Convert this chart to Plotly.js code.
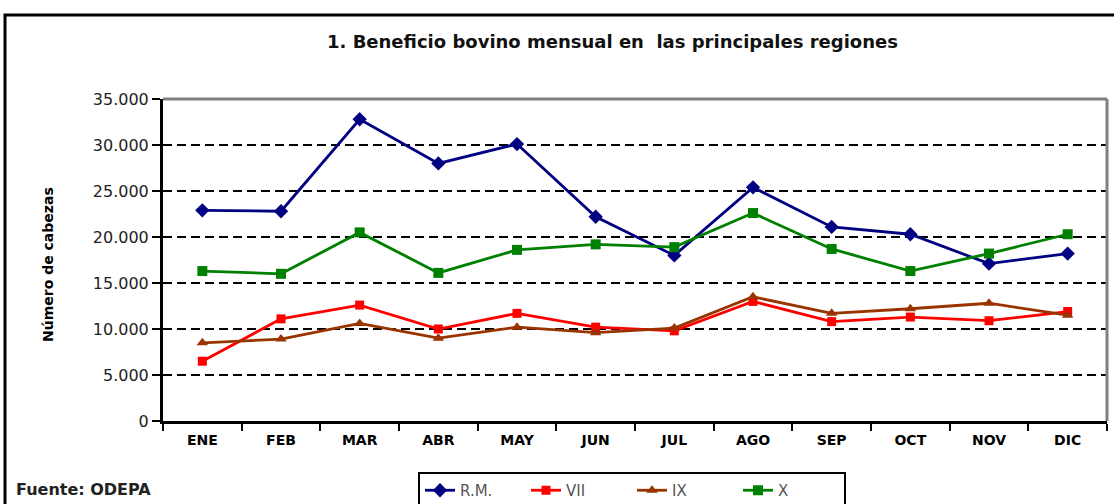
<!DOCTYPE html>
<html>
<head>
<meta charset="utf-8">
<script src="https://cdn.plot.ly/plotly-3.0.1.min.js"></script>
<style>
html,body{margin:0;padding:0;background:#fff;}
#chart{width:1114px;height:504px;}
</style>
</head>
<body>
<div id="chart"></div>
<script>
const months = ["ENE","FEB","MAR","ABR","MAY","JUN","JUL","AGO","SEP","OCT","NOV","DIC"];
const seriesNames = ["R.M.","VII","IX","X"];
const rm  = [22900, 22800, 32800, 28000, 30100, 22200, 18000, 25400, 21100, 20300, 17100, 18200];
const vii = [6500, 11100, 12600, 10000, 11700, 10200, 9800, 13000, 10800, 11300, 10900, 11900];
const ix  = [8500, 8900, 10600, 9000, 10200, 9600, 10100, 13500, 11700, 12200, 12800, 11500];
const x10 = [16300, 16000, 20500, 16100, 18600, 19200, 18900, 22600, 18700, 16300, 18200, 20300];
const yTicks = [0, 5000, 10000, 15000, 20000, 25000, 30000, 35000];
const titleText = "1. Beneficio bovino mensual en  las principales regiones";
const yTitleText = "Número de cabezas";
const sourceText = "Fuente: ODEPA";

const W = 1114, H = 504, L = 163, R = 7, T = 99, B = 83;
const pw = W - L - R, ph = H - T - B;
const px = v => (v - L) / pw;
const py = v => (H - B - v) / ph;

const styles = [
  {color:"#000080", symbol:"diamond", size:11},
  {color:"#FF0000", symbol:"square", size:9},
  {color:"#993300", symbol:"triangle-up", size:10},
  {color:"#008000", symbol:"square", size:10}
];
const data = [rm, vii, ix, x10].map((vals, i) => ({
  type:"scatter", mode:"lines+markers", x: months, y: vals, name: seriesNames[i],
  line:{color: styles[i].color, width: 2.8},
  marker:{color: styles[i].color, symbol: styles[i].symbol, size: styles[i].size}
}));

const layout = {
  width: W, height: H, autosize:false,
  margin:{l:L, r:R, t:T, b:B, pad:0, autoexpand:false},
  paper_bgcolor:"#fff", plot_bgcolor:"#fff",
  separators: ",.",
  showlegend:true,
  font:{family:"DejaVu Sans, Arial, sans-serif", color:"#111"},
  xaxis:{
    type:"category", range:[-0.5, 11.5], fixedrange:true, automargin:false,
    showline:true, linecolor:"#000", linewidth:3,
    ticks:"outside", tickson:"boundaries", ticklen:7, tickwidth:2, tickcolor:"#000",
    ticklabelstandoff:4,
    showgrid:false, zeroline:false,
    tickfont:{family:"DejaVu Sans, Arial, sans-serif", size:14, color:"#000", weight:"bold"}
  },
  yaxis:{
    range:[0, 35000], tickvals: yTicks, tickformat:",d", fixedrange:true, automargin:false,
    showline:true, linecolor:"#000", linewidth:3,
    ticks:"outside", ticklen:8, tickwidth:2, tickcolor:"#000",
    showgrid:true, gridcolor:"#000", gridwidth:2, griddash:"9px,5px",
    zeroline:false,
    tickfont:{family:"DejaVu Sans, Arial, sans-serif", size:16, color:"#222"}
  },
  legend:{
    orientation:"h", x: px(418), y: py(472), xanchor:"left", yanchor:"top",
    bgcolor:"#fff", bordercolor:"#000", borderwidth:2,
    font:{family:"DejaVu Sans, Arial, sans-serif", size:15, color:"#555"},
    entrywidth:61, itemwidth:30, tracegroupgap:0
  },
  shapes:[
    {type:"line", xref:"paper", yref:"paper", x0:0, x1:1, y0:1, y1:1, line:{color:"#808080", width:3}, layer:"above"},
    {type:"line", xref:"paper", yref:"paper", x0:1, x1:1, y0:0, y1:1, line:{color:"#808080", width:3}, layer:"above"},
    {type:"rect", xref:"paper", yref:"paper", x0:px(5), x1:px(1122), y0:py(525), y1:py(15), line:{color:"#000", width:3}, fillcolor:"rgba(0,0,0,0)", layer:"below"}
  ],
  annotations:[
    {text:titleText, xref:"paper", yref:"paper", x:px(612), y:py(42), xanchor:"center", yanchor:"middle", showarrow:false,
     font:{family:"DejaVu Sans, Arial, sans-serif", size:18, color:"#111", weight:"bold"}},
    {text:yTitleText, xref:"paper", yref:"paper", x:px(48), y:py(265), xanchor:"center", yanchor:"middle", showarrow:false, textangle:-90,
     font:{family:"DejaVu Sans, Arial, sans-serif", size:14, color:"#000", weight:"bold"}},
    {text:sourceText, xref:"paper", yref:"paper", x:px(14), y:py(490), xanchor:"left", yanchor:"middle", showarrow:false,
     font:{family:"DejaVu Sans, Arial, sans-serif", size:16, color:"#222", weight:"bold"}}
  ]
};

Plotly.newPlot("chart", data, layout, {displayModeBar:false, staticPlot:true});
</script>
</body>
</html>
